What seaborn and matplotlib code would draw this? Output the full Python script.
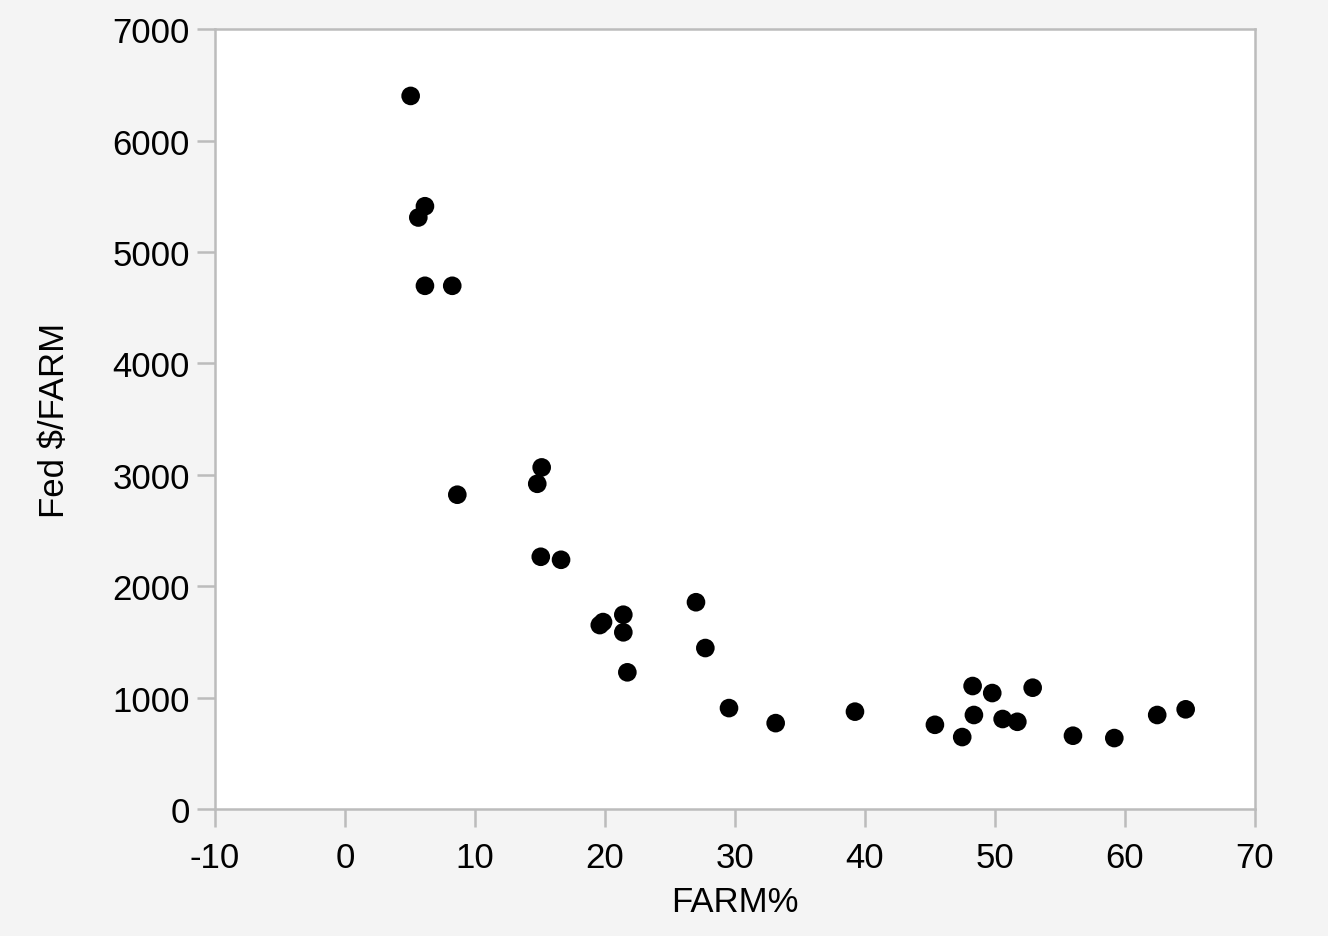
import matplotlib
matplotlib.use("Agg")
import matplotlib.pyplot as plt
import pandas as pd
import seaborn as sns

# Values
farm_pct = [5.05, 5.64, 6.15, 6.15, 8.25, 8.64, 15.13, 14.79, 15.06, 16.62,
            19.6, 19.85, 21.41, 21.41, 21.72, 27.0, 27.72, 29.54, 33.13, 39.23,
            45.38, 47.48, 48.28, 48.38, 49.79, 50.59, 51.72, 52.9, 56.0, 59.18,
            62.48, 64.67]
fed_per_farm = [6400, 5309, 5410, 4696, 4696, 2821, 3066, 2919, 2264, 2237,
                1651, 1678, 1744, 1586, 1227, 1856, 1445, 906, 771, 874,
                756, 646, 1104, 844, 1041, 808, 783, 1089, 658, 637,
                844, 895]
x_ticks = list(range(-10, 71, 10))
y_ticks = list(range(0, 7001, 1000))

df = pd.DataFrame({"FARM%": farm_pct, "Fed $/FARM": fed_per_farm})

sns.set_style("white")
plt.rcParams["font.family"] = ["Liberation Sans", "DejaVu Sans"]
plt.rcParams["axes.unicode_minus"] = False

grey = "#bcbcbc"
fig = plt.figure(figsize=(13.28, 9.37), dpi=100, facecolor="#f4f4f4")
ax = fig.add_axes([0.1619, 0.1355, 0.7831, 0.8324])
ax.set_facecolor("white")

sns.scatterplot(data=df, x="FARM%", y="Fed $/FARM", color="black",
                s=180, edgecolor="none", ax=ax)

ax.set_xlim(-10, 70)
ax.set_ylim(0, 7000)
ax.set_xticks(x_ticks)
ax.set_yticks(y_ticks)
for sp in ax.spines.values():
    sp.set_color(grey)
    sp.set_linewidth(1.8)
ax.tick_params(axis="both", direction="out", color=grey, width=1.8,
               length=13, labelsize=25, labelcolor="black",
               bottom=True, left=True)
ax.tick_params(axis="x", pad=10)
ax.tick_params(axis="y", pad=5)
ax.set_xlabel("FARM%", fontsize=25, labelpad=8, color="black")
ax.set_ylabel("Fed $/FARM", fontsize=25, labelpad=30, color="black")

fig.savefig("out.png", dpi=100, facecolor=fig.get_facecolor())
